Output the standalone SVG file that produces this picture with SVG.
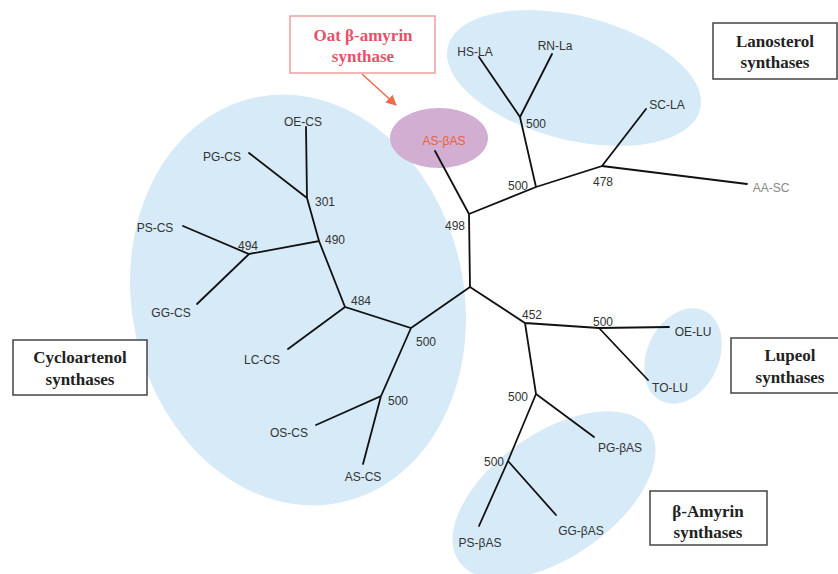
<svg xmlns="http://www.w3.org/2000/svg" width="838" height="574" viewBox="0 0 838 574">
<defs>
<style>
.grp{fill:#d6eaf8;stroke:none}
.br{stroke:#111;stroke-width:1.8;fill:none;stroke-linecap:round}
.lbl{font-family:"Liberation Sans",Arial,sans-serif;font-size:12px;fill:#333;text-anchor:middle}
.num{font-family:"Liberation Sans",Arial,sans-serif;font-size:12px;fill:#333}
.box{fill:#fff;stroke:#444;stroke-width:1.5}
.ttl{font-family:"Liberation Serif","Times New Roman",serif;font-size:17px;font-weight:bold;fill:#222;text-anchor:middle}
</style>
<marker id="ah" viewBox="0 0 10 10" refX="9" refY="5" markerWidth="7" markerHeight="7" orient="auto"><path d="M0,0 L10,5 L0,10 z" fill="#ef6a4e"/></marker>
</defs>
<rect width="838" height="574" fill="#fff"/>
<g id="groups">
<ellipse class="grp" cx="298" cy="300" rx="166" ry="207" transform="rotate(-12 298 300)"/>
<ellipse class="grp" cx="574" cy="78" rx="130" ry="62" transform="rotate(14 574 78)"/>
<ellipse class="grp" cx="683" cy="356" rx="36" ry="50" transform="rotate(25 683 356)"/>
<ellipse class="grp" cx="554" cy="495" rx="116" ry="62" transform="rotate(-35 554 495)"/>
<ellipse cx="439" cy="138" rx="49" ry="30" fill="#d2afd2"/>
</g>
<g id="connectors">
<path class="br" d="M470,287 L469,214 M469,214 L435,151 M469,214 L536,187 L520,117 M520,117 L479,57 M520,117 L552,54 M536,187 L602,166 L646,109 M602,166 L747,184"/>
<path class="br" d="M470,287 L525,323 L599,328 L669,327 M599,328 L648,380 M525,323 L536,394 L594,437 M536,394 L508,461 L479,526 M508,461 L556,515"/>
<path class="br" d="M470,287 L411,328 L345,307 L288,349 M345,307 L319,241 L249,254 L183,226 M249,254 L197,304 M319,241 L307,198 L306,127 M307,198 L249,153 M411,328 L381,396 L316,425 M381,396 L363,464"/>
<path d="M362,74 L396,105" stroke="#ef6a4e" stroke-width="1.5" fill="none" marker-end="url(#ah)"/>
</g>
<g id="bootstrap">
<text class="num" x="445" y="230">498</text>
<text class="num" x="508" y="190">500</text>
<text class="num" x="526" y="128">500</text>
<text class="num" x="593" y="186">478</text>
<text class="num" x="522" y="319">452</text>
<text class="num" x="593" y="326">500</text>
<text class="num" x="508" y="401">500</text>
<text class="num" x="484" y="466">500</text>
<text class="num" x="416" y="346">500</text>
<text class="num" x="351" y="305">484</text>
<text class="num" x="325" y="244">490</text>
<text class="num" x="238" y="250">494</text>
<text class="num" x="315" y="206">301</text>
<text class="num" x="388" y="405">500</text>
</g>
<g id="leaf-HS-LA"><text class="lbl" x="475" y="56">HS-LA</text></g>
<g id="leaf-RN-La"><text class="lbl" x="555" y="50">RN-La</text></g>
<g id="leaf-SC-LA"><text class="lbl" x="667" y="109">SC-LA</text></g>
<g id="leaf-AA-SC"><text class="lbl" x="771" y="192" style="fill:#888">AA-SC</text></g>
<g id="leaf-OE-LU"><text class="lbl" x="693" y="336">OE-LU</text></g>
<g id="leaf-TO-LU"><text class="lbl" x="670" y="392">TO-LU</text></g>
<g id="leaf-PG-bAS"><text class="lbl" x="620" y="452">PG-βAS</text></g>
<g id="leaf-GG-bAS"><text class="lbl" x="581" y="535">GG-βAS</text></g>
<g id="leaf-PS-bAS"><text class="lbl" x="480" y="547">PS-βAS</text></g>
<g id="leaf-AS-bAS"><text class="lbl" x="444" y="145" style="fill:#e8603c">AS-βAS</text></g>
<g id="leaf-OE-CS"><text class="lbl" x="303" y="126">OE-CS</text></g>
<g id="leaf-PG-CS"><text class="lbl" x="222" y="161">PG-CS</text></g>
<g id="leaf-PS-CS"><text class="lbl" x="155" y="232">PS-CS</text></g>
<g id="leaf-GG-CS"><text class="lbl" x="171" y="317">GG-CS</text></g>
<g id="leaf-LC-CS"><text class="lbl" x="262" y="364">LC-CS</text></g>
<g id="leaf-OS-CS"><text class="lbl" x="289" y="437">OS-CS</text></g>
<g id="leaf-AS-CS"><text class="lbl" x="363" y="481">AS-CS</text></g>
<g id="box-oat">
<rect x="290" y="16" width="145" height="57" fill="#fff" stroke="#f09090" stroke-width="1.3"/>
<text class="ttl" x="363" y="41" style="fill:#e8506a">Oat β-amyrin</text>
<text class="ttl" x="363" y="62" style="fill:#e8506a">synthase</text>
</g>
<g id="box-lanosterol">
<rect class="box" x="713" y="23" width="124" height="56"/>
<text class="ttl" x="775" y="47">Lanosterol</text>
<text class="ttl" x="775" y="68">synthases</text>
</g>
<g id="box-cycloartenol">
<rect class="box" x="13" y="340" width="134" height="55"/>
<text class="ttl" x="80" y="363">Cycloartenol</text>
<text class="ttl" x="80" y="385">synthases</text>
</g>
<g id="box-lupeol">
<rect class="box" x="731" y="338" width="118" height="55"/>
<text class="ttl" x="790" y="361">Lupeol</text>
<text class="ttl" x="790" y="383">synthases</text>
</g>
<g id="box-bamyrin">
<rect class="box" x="650" y="491" width="117" height="54"/>
<text class="ttl" x="708" y="517">β-Amyrin</text>
<text class="ttl" x="708" y="538">synthases</text>
</g>
</svg>
